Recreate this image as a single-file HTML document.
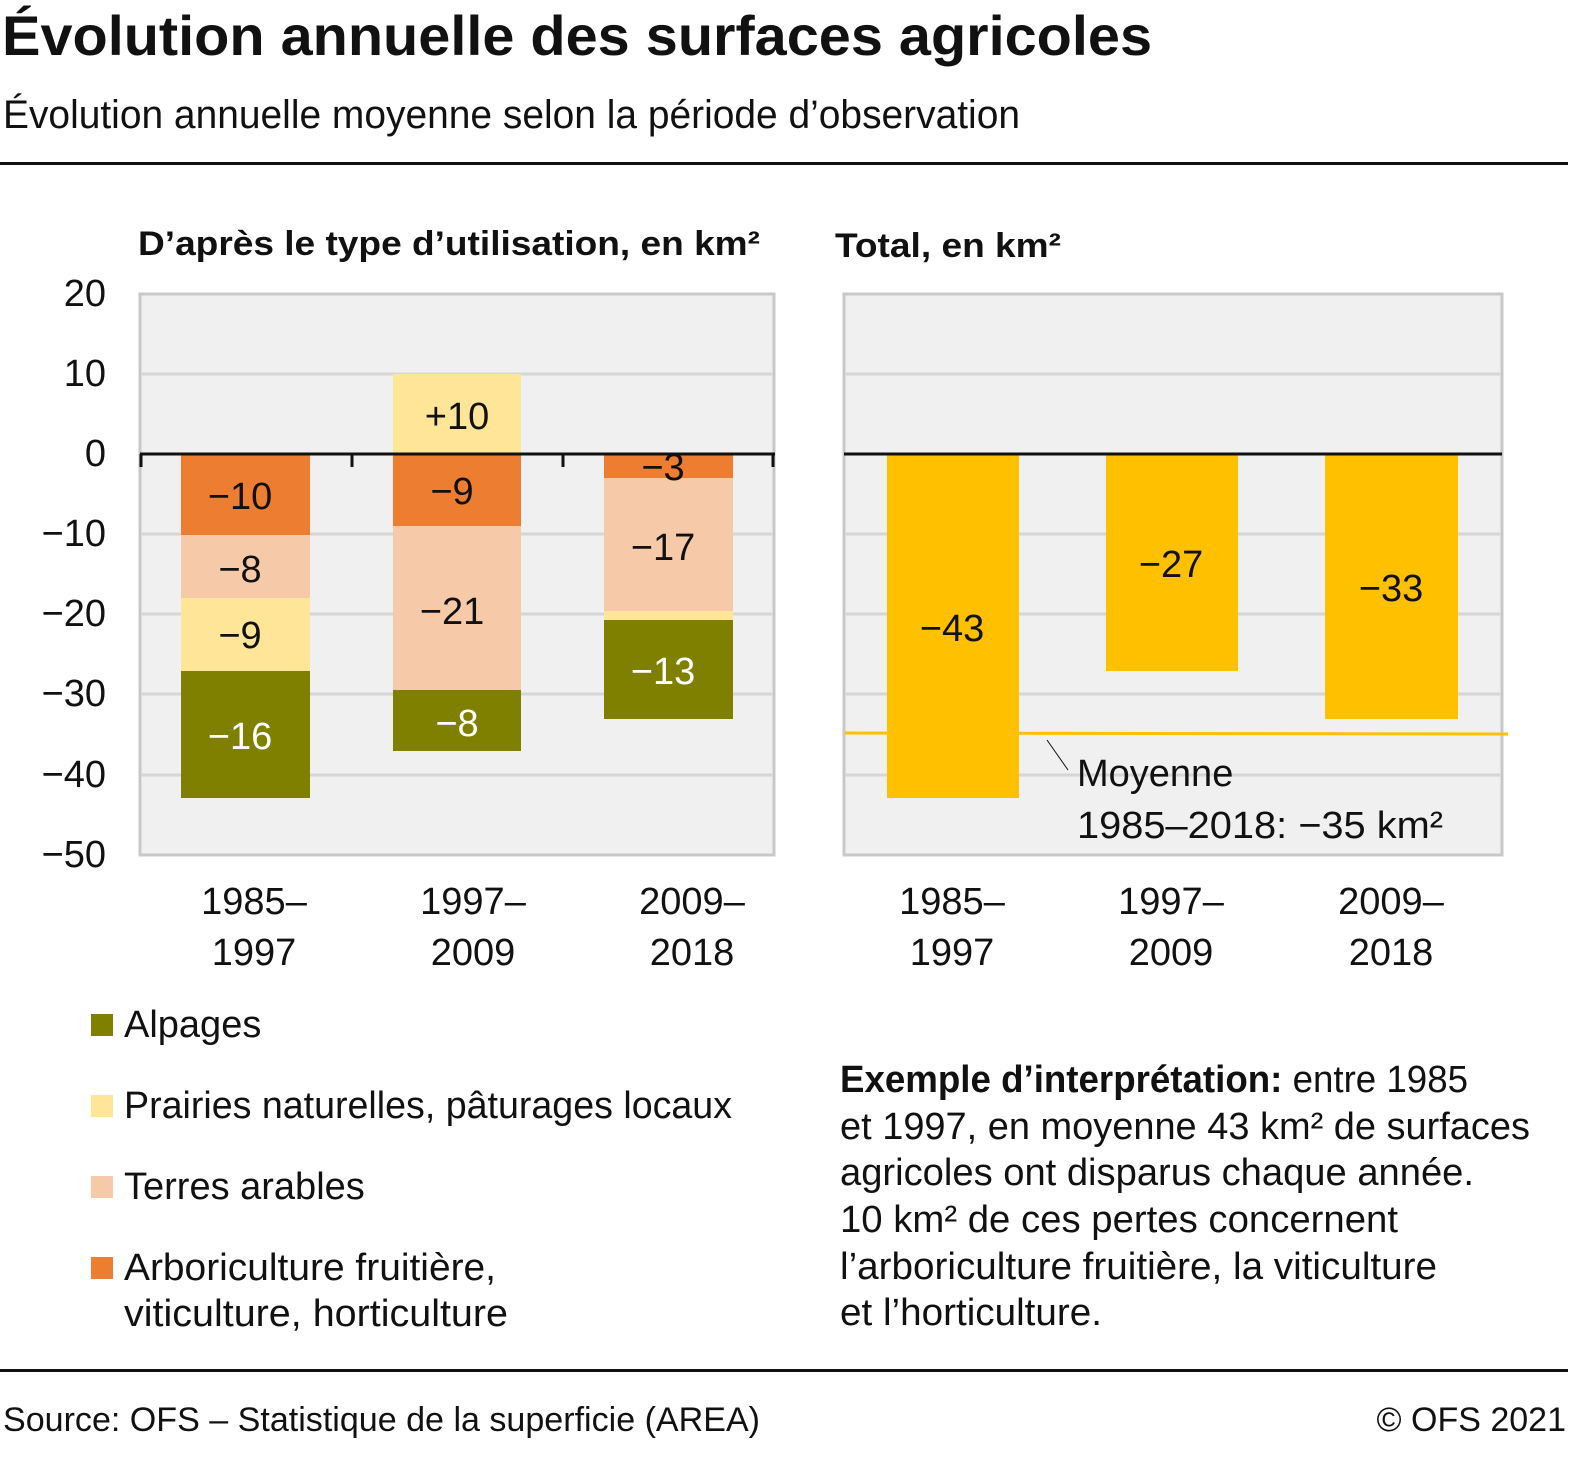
<!DOCTYPE html>
<html><head><meta charset="utf-8"><style>
html,body{margin:0;padding:0;background:#fff}
svg{display:block}
text{font-family:"Liberation Sans",sans-serif;fill:#111}
.n{font-size:38px}
</style></head><body>
<svg width="1580" height="1457" viewBox="0 0 1580 1457" xmlns="http://www.w3.org/2000/svg">
<text x="2" y="55" font-size="56" font-weight="bold" textLength="1150" lengthAdjust="spacingAndGlyphs">Évolution annuelle des surfaces agricoles</text>
<text x="3" y="128" font-size="40" textLength="1017" lengthAdjust="spacingAndGlyphs">Évolution annuelle moyenne selon la période d’observation</text>
<rect x="0" y="162" width="1568" height="3" fill="#111"/>
<text x="138" y="255" font-size="34" font-weight="bold" textLength="622" lengthAdjust="spacingAndGlyphs">D’après le type d’utilisation, en km²</text>
<text x="835" y="257" font-size="34" font-weight="bold" textLength="226" lengthAdjust="spacingAndGlyphs">Total, en km²</text>

<!-- left panel -->
<rect x="140" y="294" width="634" height="561" fill="#f0f0f0" stroke="#c8c8c8" stroke-width="3"/>
<g stroke="#d6d6d6" stroke-width="3">
<line x1="141" y1="374" x2="773" y2="374"/><line x1="141" y1="534" x2="773" y2="534"/><line x1="141" y1="614" x2="773" y2="614"/><line x1="141" y1="694" x2="773" y2="694"/><line x1="141" y1="775" x2="773" y2="775"/>
</g>
<g font-size="38" text-anchor="end">
<text x="106" y="306">20</text><text x="106" y="386">10</text><text x="106" y="466">0</text><text x="106" y="546">−10</text><text x="106" y="626">−20</text><text x="106" y="706">−30</text><text x="106" y="787">−40</text><text x="106" y="867">−50</text>
</g>
<!-- bar1 -->
<rect x="181" y="454" width="129" height="81" fill="#ed7d31"/>
<rect x="181" y="535" width="129" height="63" fill="#f6caa9"/>
<rect x="181" y="598" width="129" height="73" fill="#fee598"/>
<rect x="181" y="671" width="129" height="127" fill="#7f7f00"/>
<!-- bar2 -->
<rect x="393" y="374" width="128" height="80" fill="#fee598"/>
<rect x="393" y="454" width="128" height="72" fill="#ed7d31"/>
<rect x="393" y="526" width="128" height="164" fill="#f6caa9"/>
<rect x="393" y="690" width="128" height="61" fill="#7f7f00"/>
<!-- bar3 -->
<rect x="604" y="454" width="129" height="24" fill="#ed7d31"/>
<rect x="604" y="478" width="129" height="133" fill="#f6caa9"/>
<rect x="604" y="611" width="129" height="9" fill="#fee598"/>
<rect x="604" y="620" width="129" height="99" fill="#7f7f00"/>
<g stroke="#111" stroke-width="3"><line x1="140" y1="454" x2="775" y2="454"/>
<line x1="141" y1="454" x2="141" y2="467"/><line x1="352" y1="454" x2="352" y2="467"/><line x1="563" y1="454" x2="563" y2="467"/><line x1="773" y1="454" x2="773" y2="467"/></g>
<g class="n" text-anchor="middle">
<text x="240" y="509">−10</text><text x="240" y="582">−8</text><text x="240" y="648">−9</text><text x="240" y="749" fill="#fff" style="fill:#fff">−16</text>
<text x="457" y="429">+10</text><text x="452" y="504">−9</text><text x="452" y="624">−21</text><text x="457" y="736" style="fill:#fff">−8</text>
<text x="663" y="480">−3</text><text x="663" y="560">−17</text><text x="663" y="684" style="fill:#fff">−13</text>
</g>
<g class="n" text-anchor="middle">
<text x="254" y="914">1985–</text><text x="254" y="965">1997</text>
<text x="473" y="914">1997–</text><text x="473" y="965">2009</text>
<text x="692" y="914">2009–</text><text x="692" y="965">2018</text>
</g>

<!-- right panel -->
<rect x="844" y="294" width="658" height="561" fill="#f0f0f0" stroke="#c8c8c8" stroke-width="3"/>
<g stroke="#d6d6d6" stroke-width="3">
<line x1="845" y1="374" x2="1501" y2="374"/><line x1="845" y1="534" x2="1501" y2="534"/><line x1="845" y1="614" x2="1501" y2="614"/><line x1="845" y1="694" x2="1501" y2="694"/><line x1="845" y1="775" x2="1501" y2="775"/>
</g>
<rect x="887" y="454" width="132" height="344" fill="#ffc000"/>
<rect x="1106" y="454" width="132" height="217" fill="#ffc000"/>
<rect x="1325" y="454" width="133" height="265" fill="#ffc000"/>
<line x1="844" y1="454" x2="1502" y2="454" stroke="#111" stroke-width="3"/>
<line x1="845" y1="733" x2="1508" y2="734" stroke="#ffc000" stroke-width="3"/>
<line x1="1047" y1="740" x2="1068" y2="770" stroke="#111" stroke-width="1"/>
<g class="n" text-anchor="middle">
<text x="952" y="641">−43</text><text x="1171" y="577">−27</text><text x="1391" y="601">−33</text>
<text x="952" y="914">1985–</text><text x="952" y="965">1997</text>
<text x="1171" y="914">1997–</text><text x="1171" y="965">2009</text>
<text x="1391" y="914">2009–</text><text x="1391" y="965">2018</text>
</g>
<text x="1077" y="786" class="n">Moyenne</text>
<text x="1077" y="838" class="n" textLength="366" lengthAdjust="spacingAndGlyphs">1985–2018: −35 km²</text>

<!-- legend -->
<rect x="91" y="1014" width="22" height="22" fill="#7f7f00"/>
<rect x="91" y="1095" width="22" height="22" fill="#fee598"/>
<rect x="91" y="1176" width="22" height="22" fill="#f6caa9"/>
<rect x="91" y="1257" width="22" height="22" fill="#ed7d31"/>
<g class="n">
<text x="124" y="1037">Alpages</text>
<text x="124" y="1118" textLength="608" lengthAdjust="spacingAndGlyphs">Prairies naturelles, pâturages locaux</text>
<text x="124" y="1199">Terres arables</text>
<text x="124" y="1280" textLength="372" lengthAdjust="spacingAndGlyphs">Arboriculture fruitière,</text>
<text x="124" y="1326" textLength="384" lengthAdjust="spacingAndGlyphs">viticulture, horticulture</text>
</g>
<g class="n">
<text x="840" y="1092" textLength="628" lengthAdjust="spacingAndGlyphs"><tspan font-weight="bold">Exemple d’interprétation:</tspan> entre 1985</text>
<text x="840" y="1139" textLength="690" lengthAdjust="spacingAndGlyphs">et 1997, en moyenne 43 km² de surfaces</text>
<text x="840" y="1185" textLength="634" lengthAdjust="spacingAndGlyphs">agricoles ont disparus chaque année.</text>
<text x="840" y="1232" textLength="558" lengthAdjust="spacingAndGlyphs">10 km² de ces pertes concernent</text>
<text x="840" y="1279" textLength="597" lengthAdjust="spacingAndGlyphs">l’arboriculture fruitière, la viticulture</text>
<text x="840" y="1325" textLength="262" lengthAdjust="spacingAndGlyphs">et l’horticulture.</text>
</g>
<rect x="0" y="1369" width="1568" height="3" fill="#111"/>
<text x="3" y="1431" font-size="34" textLength="757" lengthAdjust="spacingAndGlyphs">Source: OFS – Statistique de la superficie (AREA)</text>
<text x="1566" y="1431" font-size="34" text-anchor="end">© OFS 2021</text>
</svg>
</body></html>
